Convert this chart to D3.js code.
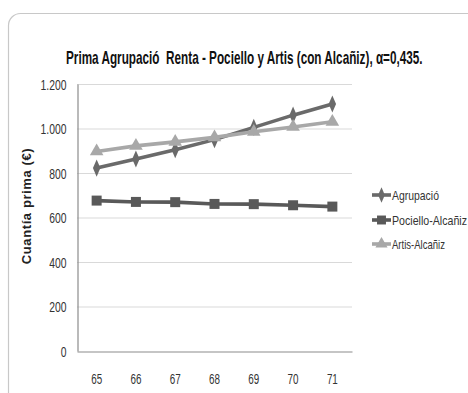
<!DOCTYPE html>
<html>
<head>
<meta charset="utf-8">
<script src="https://cdn.jsdelivr.net/npm/d3@7"></script>
<style>
  html, body { margin: 0; padding: 0; background: #fff; }
  svg { display: block; }
  text { font-family: "Liberation Sans Narrow", "Arial Narrow", "Liberation Sans", sans-serif; }
</style>
</head>
<body>
<svg id="chart" width="468" height="393"></svg>
<script>
// Ages (x categories)
const categories = ["65", "66", "67", "68", "69", "70", "71"];
// Premium amounts (€) per series
const agrupacio = [822, 863, 905, 950, 1005, 1060, 1110];
const pociello  = [676, 670, 669, 661, 660, 655, 649];
const artis     = [897, 922, 940, 960, 985, 1007, 1030];
const seriesNames = ["Agrupació", "Pociello-Alcañiz", "Artis-Alcañiz"];
const yTicks = [0, 200, 400, 600, 800, 1000, 1200];
const yTickLabels = ["0", "200", "400", "600", "800", "1.000", "1.200"];

const series = [
  { name: seriesNames[0], values: agrupacio, color: "#6a6a6a", symbol: d3.symbolDiamond, size: 85, sx: 0.75 },
  { name: seriesNames[1], values: pociello,  color: "#595959", symbol: d3.symbolSquare,  size: 100, sx: 1 },
  { name: seriesNames[2], values: artis,     color: "#a8a8a8", symbol: d3.symbolTriangle, size: 80, sx: 1 }
];

const svg = d3.select("#chart");

// rounded frame
svg.append("rect")
  .attr("x", 8.5).attr("y", 13.5)
  .attr("width", 480).attr("height", 400)
  .attr("rx", 12).attr("ry", 12)
  .attr("fill", "none").attr("stroke", "#c8c8c8").attr("stroke-width", 1.2);

const plot = { left: 77, right: 352, top: 84, bottom: 351 };

const x = d3.scaleBand().domain(categories).range([plot.left, plot.right]);
const y = d3.scaleLinear().domain([0, 1200]).range([plot.bottom, plot.top]);

// gridlines
svg.append("g").selectAll("line")
  .data(yTicks.filter(d => d > 0))
  .join("line")
  .attr("x1", plot.left).attr("x2", plot.right)
  .attr("y1", d => y(d) + 0.5).attr("y2", d => y(d) + 0.5)
  .attr("stroke", "#d9d9d9").attr("stroke-width", 1);

// axes (labels squeezed horizontally for a condensed look)
const yAxis = d3.axisLeft(y).tickValues(yTicks)
  .tickFormat((d, i) => yTickLabels[i]).tickSize(0).tickPadding(0);
const gy = svg.append("g").attr("transform", `translate(${plot.left + 0.5},0)`).call(yAxis);
gy.select(".domain").attr("stroke", "#8c8c8c").attr("stroke-width", 1.2);
gy.selectAll(".tick text").attr("font-size", 14).attr("fill", "#333")
  .attr("x", 0).attr("dy", "0.36em")
  .attr("transform", "translate(-11,0) scale(0.74,1)");

const xAxis = d3.axisBottom(x).tickSize(0).tickPadding(0);
const gx = svg.append("g").attr("transform", `translate(0,${plot.bottom + 0.5})`).call(xAxis);
gx.select(".domain").attr("stroke", "#8c8c8c").attr("stroke-width", 1.2);
gx.selectAll(".tick text").attr("font-size", 14.5).attr("fill", "#333")
  .attr("y", 0).attr("dy", 0)
  .attr("transform", "translate(0,32) scale(0.68,1)");

// y-axis title
svg.append("text")
  .attr("transform", `translate(31,206) rotate(-90)`)
  .attr("text-anchor", "middle")
  .style("font-family", "'Liberation Sans', Arial, sans-serif")
  .attr("font-size", 13).attr("font-weight", "bold").attr("fill", "#222")
  .attr("letter-spacing", 0.6)
  .text("Cuantía prima (€)");

// chart title, condensed to its line width
const title = svg.append("text")
  .attr("x", 0).attr("y", 0)
  .attr("font-size", 17.5).attr("font-weight", "bold").attr("fill", "#111")
  .style("white-space", "pre")
  .text("Prima Agrupació  Renta - Pociello y Artis (con Alcañiz), α=0,435.");
{
  const w = title.node().getComputedTextLength();
  title.attr("transform", `translate(66,64) scale(${357 / w},1)`);
}

// series lines and markers (triangles drawn last so they sit on top)
const cx = d => x(d) + x.bandwidth() / 2;
const line = d3.line().x((v, i) => cx(categories[i])).y(v => y(v));

const order = [1, 0, 2];
order.forEach(k => {
  const s = series[k];
  const g = svg.append("g");
  g.append("path")
    .datum(s.values)
    .attr("d", line)
    .attr("fill", "none")
    .attr("stroke", s.color)
    .attr("stroke-width", 3.6)
    .attr("stroke-linejoin", "round");
  g.selectAll("path.m")
    .data(s.values)
    .join("path")
    .attr("class", "m")
    .attr("d", d3.symbol().type(s.symbol).size(s.size))
    .attr("transform", (v, i) => `translate(${cx(categories[i])},${y(v)}) scale(${s.sx},1)`)
    .attr("fill", s.color);
});

// legend
const legendY = [195, 220, 244];
const legendW = [47, 75, 53];
series.forEach((s, i) => {
  const g = svg.append("g").attr("transform", `translate(372,${legendY[i]})`);
  g.append("line").attr("x1", 0).attr("x2", 19).attr("y1", 0).attr("y2", 0)
    .attr("stroke", s.color).attr("stroke-width", 3.6);
  g.append("path")
    .attr("d", d3.symbol().type(s.symbol).size(s.size * 0.8))
    .attr("transform", `translate(9.5,0) scale(${s.sx},1)`)
    .attr("fill", s.color);
  const t = g.append("text").attr("x", 0).attr("y", 0)
    .attr("font-size", 12.5).attr("fill", "#333")
    .text(s.name);
  const w = t.node().getComputedTextLength();
  t.attr("transform", `translate(20,4.5) scale(${legendW[i] / w},1)`);
});
</script>
</body>
</html>
